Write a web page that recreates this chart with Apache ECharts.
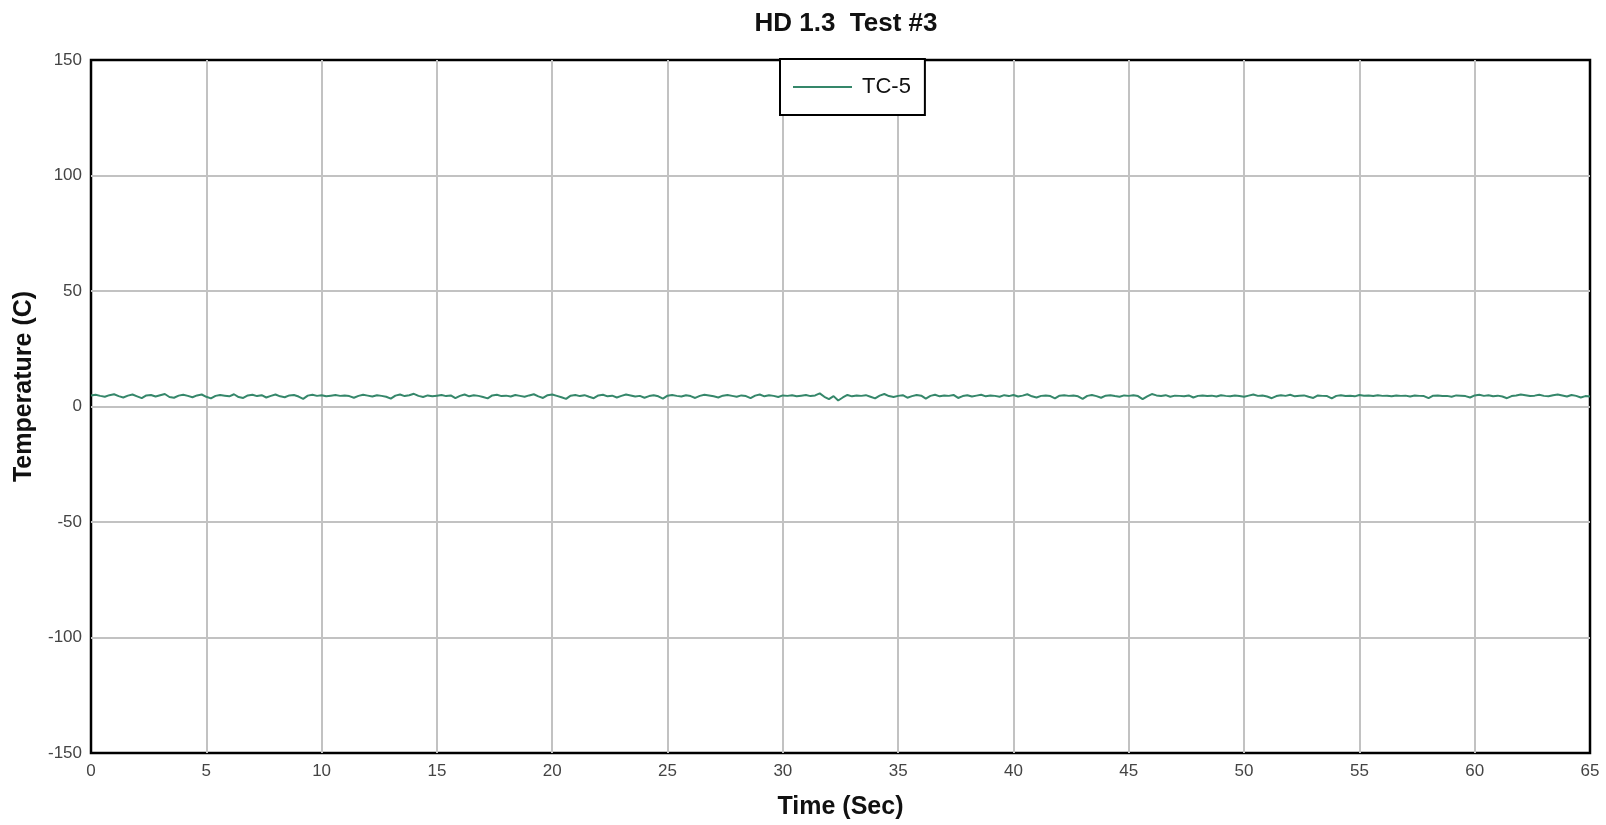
<!DOCTYPE html>
<html>
<head>
<meta charset="utf-8">
<script src="https://cdn.jsdelivr.net/npm/echarts@6/dist/echarts.min.js"></script>
<style>html,body{margin:0;padding:0;background:#fff;}#c{width:1606px;height:825px;}</style>
</head>
<body>
<div id="c"></div>
<script>
const chartTitle = 'HD 1.3  Test #3';
const seriesName = 'TC-5';
const xAxisName = 'Time (Sec)';
const yAxisName = 'Temperature (C)';
const startTime = 0;
const timeStep = 0.2;
const xTicks = [0, 65, 5];   // min, max, interval
const yTicks = [-150, 150, 50];
const tc5 = [
4.8,5.1,4.6,4.2,4.9,5.3,4.5,3.9,4.7,5.2,4.4,3.6,4.8,5.0,4.3,4.9,5.4,4.1,3.8,4.7,5.1,4.6,4.0,4.8,5.2,
4.2,3.5,4.6,5.0,4.7,4.4,5.3,4.1,3.7,4.8,5.1,4.5,4.9,3.9,4.6,5.2,4.4,4.0,4.8,5.0,4.3,3.3,4.7,5.1,4.6,
4.9,4.4,4.7,5.0,4.6,4.8,4.5,3.8,4.6,5.1,4.7,4.3,4.9,4.6,4.2,3.4,4.7,5.2,4.5,4.9,5.5,4.6,4.1,4.8,4.4,
4.7,5.0,4.5,4.8,3.6,4.6,5.2,4.4,4.9,4.6,4.1,3.5,4.8,5.1,4.5,4.7,4.3,5.0,4.6,4.2,4.8,5.3,4.4,3.7,4.9,
5.2,4.6,4.0,3.3,4.7,5.0,4.5,4.9,4.2,3.6,4.8,5.1,4.4,4.7,3.9,4.6,5.2,4.8,4.3,4.6,3.8,4.5,4.9,4.4,3.4,
4.7,5.0,4.6,4.3,4.9,4.5,3.7,4.6,5.1,4.8,4.4,3.9,4.7,5.0,4.6,4.2,4.8,4.5,3.6,4.7,5.2,4.4,4.9,4.6,4.1,
4.8,4.6,4.9,4.4,4.7,5.0,4.5,4.8,5.7,4.2,3.2,4.5,2.6,3.9,5.0,4.4,4.8,4.6,4.9,4.2,3.5,4.7,5.4,4.5,4.1,
4.6,4.9,3.8,4.5,5.0,4.7,3.4,4.6,5.1,4.4,4.8,4.6,5.0,3.7,4.5,4.9,4.3,4.7,5.1,4.4,4.8,4.6,4.2,4.9,4.5,
5.0,4.3,4.7,5.3,4.4,3.9,4.6,4.8,4.5,3.5,4.7,4.9,4.6,4.8,4.4,3.3,4.6,5.0,4.5,3.8,4.7,4.9,4.5,4.2,4.8,
4.6,4.9,4.5,3.2,4.4,5.4,4.8,4.5,4.9,4.2,4.7,4.6,4.4,4.8,3.9,4.6,4.8,4.5,4.7,4.3,4.9,4.6,4.4,4.8,4.5,
4.2,4.7,5.2,4.6,4.8,4.3,3.6,4.5,4.9,4.6,5.1,4.4,4.7,4.8,4.2,3.7,4.8,4.6,4.5,3.5,4.6,4.9,4.5,4.7,4.4,
5.0,4.7,4.8,4.5,4.9,4.6,4.7,4.4,4.8,4.6,4.7,4.3,4.8,4.6,4.5,3.6,4.7,4.8,4.5,4.6,4.2,4.8,4.7,4.5,3.9,
4.8,5.1,4.6,4.9,4.4,4.7,4.3,3.6,4.5,4.8,5.2,4.9,4.5,4.7,5.1,4.6,4.4,4.9,5.2,4.8,4.3,5.0,4.6,3.9,4.5,
4.3
];

const seriesData = tc5.map((v, i) => [startTime + i * timeStep, v]);
const font = 'Liberation Sans, Arial, sans-serif';
const tickFont = 'Liberation Sans Narrow, Liberation Sans, Arial, sans-serif';
const lineColor = '#35876a';

const chart = echarts.init(document.getElementById('c'), null, {renderer: 'canvas'});
chart.setOption({
  backgroundColor: '#fff',
  animation: false,
  title: {
    text: chartTitle, left: 841, top: 6, textAlign: 'center',
    textStyle: {fontFamily: font, fontSize: 26, fontWeight: 'bold', color: '#111'}
  },
  legend: {
    left: 780, top: 59, orient: 'horizontal',
    backgroundColor: '#fff', borderColor: '#000', borderWidth: 2,
    padding: [17, 14, 17, 13],
    itemWidth: 59, itemHeight: 14,
    textStyle: {fontFamily: font, fontSize: 22, color: '#111', padding: [0, 0, 0, 5]},
    data: [{name: seriesName, icon: 'path://M0,0 L59,0 L59,2 L0,2 Z'}],
    itemStyle: {color: lineColor}
  },
  grid: {
    left: 91, right: 16, top: 60, bottom: 66,
    show: true, borderColor: '#000', borderWidth: 2.5, backgroundColor: 'transparent'
  },
  xAxis: {
    type: 'value', min: xTicks[0], max: xTicks[1], interval: xTicks[2],
    name: xAxisName, nameLocation: 'middle', nameGap: 42,
    nameTextStyle: {fontFamily: font, fontSize: 25, fontWeight: 'bold', color: '#111'},
    axisLine: {show: false}, axisTick: {show: false},
    axisLabel: {fontFamily: tickFont, fontSize: 17, color: '#444', margin: 10},
    splitLine: {show: true, showMinLine: false, showMaxLine: false, lineStyle: {color: '#c2c2c2', width: 2}}
  },
  yAxis: {
    type: 'value', min: yTicks[0], max: yTicks[1], interval: yTicks[2],
    name: yAxisName, nameLocation: 'middle', nameGap: 38, nameRotate: 90,
    nameTextStyle: {fontFamily: font, fontSize: 25, fontWeight: 'bold', color: '#111', padding: [0, 0, 0, 40]},
    axisLine: {show: false}, axisTick: {show: false},
    axisLabel: {fontFamily: tickFont, fontSize: 17, color: '#444', margin: 9},
    splitLine: {show: true, showMinLine: false, showMaxLine: false, lineStyle: {color: '#c2c2c2', width: 2}}
  },
  series: [{
    name: seriesName, type: 'line', data: seriesData,
    symbol: 'none', lineStyle: {color: lineColor, width: 2},
    itemStyle: {color: lineColor}, z: 3
  }]
});
</script>
</body>
</html>
